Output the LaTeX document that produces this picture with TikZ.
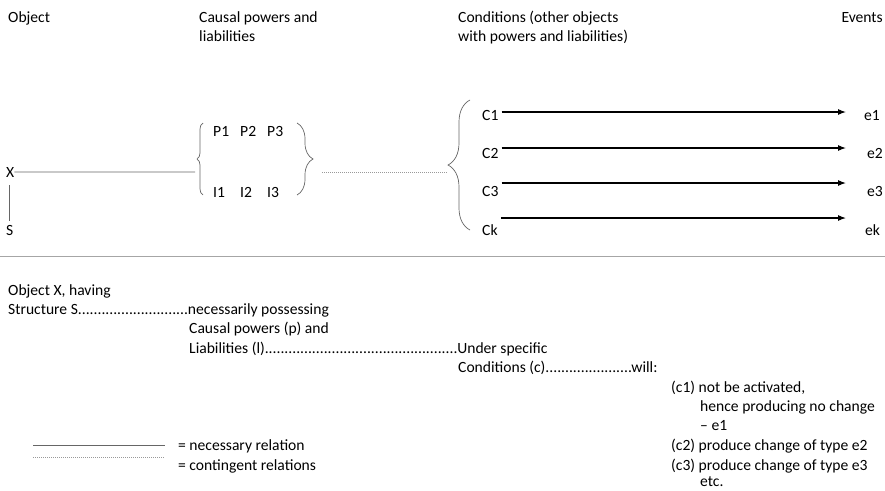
\documentclass[tikz,border=0pt]{standalone}
\usepackage{fontspec}
\setmainfont{Carlito}
\usetikzlibrary{decorations.pathreplacing,arrows.meta}

\tikzset{
  txt/.style={anchor=base west,inner sep=0pt,font=\fontsize{15.6}{19}\selectfont},
  nec/.style={draw=black!60,line width=0.7pt},
  cont/.style={draw=black!40,line width=1pt,dash pattern=on 1pt off 1pt},
  brc/.style={draw=black!60,line width=0.7pt,decorate,decoration={brace,amplitude=#1}},
  arr/.style={-{Latex[length=8pt,width=6pt]},line width=1.1pt},
}

\begin{document}
\begin{tikzpicture}[x=1pt,y=-1pt]
    \useasboundingbox (0,0) rectangle (885,490);

    % column heads
    \node[txt] (hobj) at (8,22) {Object};
    \node[txt] (hpow) at (199,22) {Causal powers and};
    \node[txt] (hpow2) at (199,41) {liabilities};
    \node[txt] (hcond) at (458,22) {Conditions (other objects};
    \node[txt] (hcond2) at (458,41) {with powers and liabilities)};
    \node[txt,anchor=base east] (hev) at (883,22) {Events};

    % object and structure
    \node[txt] (x) at (6,177) {X};
    \node[txt] (s) at (6,235) {S};
    \coordinate (pin) at (195,172);
    \draw[nec] (x.east) -- (pin);
    \draw[nec] ([xshift=3pt,yshift=-8pt]x.south west) -- ([xshift=3pt,yshift=4pt]s.north west);

    % powers and liabilities
    \foreach \n/\px in {1/213,2/240,3/267} {
        \node[txt] (p\n) at (\px,136) {P\n};
        \node[txt] (l\n) at (\px,197) {I\n};
    }
    \draw[brc=6pt] (203,195) -- (203,123);
    \draw[brc=16pt] (297,123) -- (297,195);

    % contingent link to the conditions
    \coordinate (pout) at (322,172);
    \coordinate (cin) at (447,172);
    \draw[cont] (pout) -- (cin);
    \draw[brc=22pt] (470,230) -- (470,100);

    % conditions and events
    \foreach \n/\cy/\ay/\ex in {1/120/112/864, 2/158/148/867, 3/196/183/867, k/235/218/865} {
        \node[txt] (c\n) at (482,\cy) {C\n};
        \node[txt] (e\n) at (\ex,\cy) {e\n};
        \draw[arr] (c\n.east |- 0,\ay) ++(3,0) -- (846,\ay);
    }

    \draw[black!35,line width=0.8pt] (0,256) -- (885,256);

    % the same in words
    \node[txt] (t1) at (8,295) {Object X, having};
    \node[txt] (t2) at (8,314) {Structure S............................necessarily possessing};
    \node[txt] (t3) at (189,333) {Causal powers (p) and};
    \node[txt] (t4) at (189,353) {Liabilities (l).................................................Under specific};
    \node[txt] (t5) at (458,372) {Conditions (c)......................will:};
    \node[txt] (t6) at (671,392) {(c1) not be activated,};
    \node[txt] (t7) at (700,411) {hence producing no change};
    \node[txt] (t8) at (700,430) {– e1};
    \node[txt] (t9) at (671,450) {(c2) produce change of type e2};
    \node[txt] (t10) at (671,470) {(c3) produce change of type e3};
    \node[txt] (t11) at (700,486) {etc.};

    % key
    \coordinate (k1a) at (33,445);
    \coordinate (k1b) at (165,445);
    \coordinate (k2a) at (33,457);
    \coordinate (k2b) at (165,457);
    \draw[nec] (k1a) -- (k1b);
    \draw[cont] (k2a) -- (k2b);
    \node[txt] (knec) at (178,450) {= necessary relation};
    \node[txt] (kcont) at (178,470) {= contingent relations};
\end{tikzpicture}
\end{document}
